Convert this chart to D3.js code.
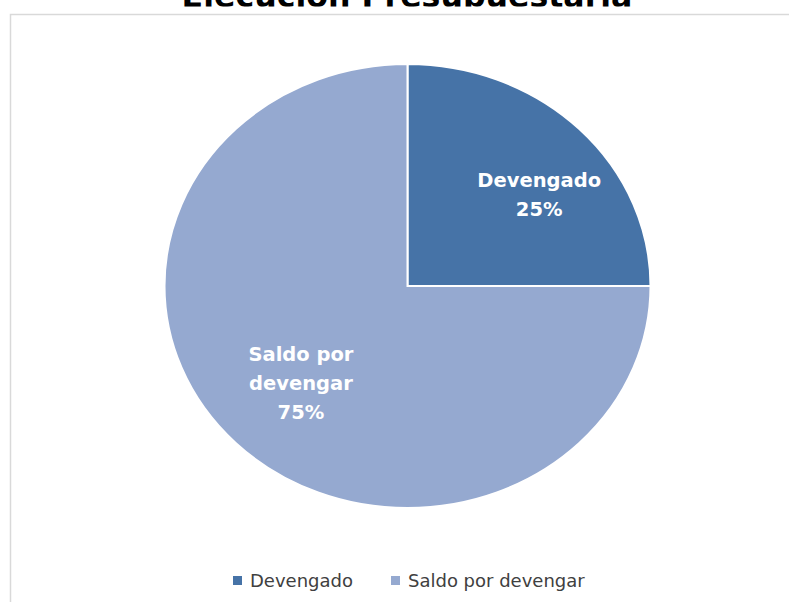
<!DOCTYPE html>
<html lang="es">
<head>
  <meta charset="UTF-8">
  <title>Ejecución Presupuestaria</title>
  <script src="https://d3js.org/d3.v7.min.js"></script>
  <style>
    body {
      margin: 0;
      background-color: #fff;
      font-family: "DejaVu Sans", Verdana, sans-serif;
      overflow: hidden;
    }
    #chart {
      width: 789px;
      height: 602px;
    }
  </style>
</head>
<body>
  <div id="chart"></div>
  <script>
    const categories = ["Devengado", "Saldo por devengar"];
    const values = [25, 75];
    const labelLines = [["Devengado", "25%"], ["Saldo por", "devengar", "75%"]];
    const colors = ["#4673A7", "#95A9D0"];

    const width = 789;
    const height = 602;
    const cx = 407.5, cy = 286;
    const rx = 243, ry = 222;

    const svg = d3.select("#chart")
      .append("svg")
      .attr("width", width)
      .attr("height", height);

    // title is clipped at the top edge like in the source picture
    svg.append("clipPath")
      .attr("id", "titleClip")
      .append("rect")
      .attr("x", 0).attr("y", 0)
      .attr("width", width).attr("height", 6.5);

    svg.append("text")
      .attr("x", 407)
      .attr("y", 6.5)
      .attr("clip-path", "url(#titleClip)")
      .attr("text-anchor", "middle")
      .attr("font-size", 31.6)
      .attr("font-weight", "bold")
      .attr("fill", "#000")
      .text("Ejecución Presupuestaria");

    // frame
    svg.append("rect")
      .attr("x", 10.5)
      .attr("y", 14.5)
      .attr("width", 800)
      .attr("height", 620)
      .attr("fill", "none")
      .attr("stroke", "#d9d9d9")
      .attr("stroke-width", 1.5);

    const pie = d3.pie().sort(null).value(d => d);
    const arcs = pie(values);
    const arc = d3.arc().innerRadius(0).outerRadius(ry);

    // pie is slightly wider than tall in the source
    const g = svg.append("g")
      .attr("transform", `translate(${cx},${cy}) scale(${rx / ry},1)`);

    g.selectAll("path")
      .data(arcs)
      .join("path")
      .attr("d", arc)
      .attr("fill", (d, i) => colors[i])
      .attr("stroke", "#fff")
      .attr("stroke-width", 2)
      .attr("vector-effect", "non-scaling-stroke");

    // slice labels (best-fit style placement)
    const labelRadius = [0.68, 0.62];
    const angleShift = [0.137, 0];
    const lineH = 29;
    arcs.forEach((a, i) => {
      const ang = (a.startAngle + a.endAngle) / 2 + angleShift[i];
      const r = ry * labelRadius[i];
      const x = cx + Math.sin(ang) * r * rx / ry;
      const yc = cy - Math.cos(ang) * r;
      const lines = labelLines[i];
      const y0 = yc - (lines.length - 1) * lineH / 2;
      const t = svg.append("text")
        .attr("text-anchor", "middle")
        .attr("font-size", 19.5)
        .attr("font-weight", "bold")
        .attr("fill", "#fff");
      lines.forEach((ln, j) => {
        t.append("tspan")
          .attr("x", x)
          .attr("y", y0 + j * lineH + 7)
          .text(ln);
      });
    });

    // legend
    const legendX = [233, 391];
    const legend = svg.append("g");
    categories.forEach((c, i) => {
      legend.append("rect")
        .attr("x", legendX[i])
        .attr("y", 576)
        .attr("width", 9)
        .attr("height", 9)
        .attr("fill", colors[i]);
      legend.append("text")
        .attr("x", legendX[i] + 17)
        .attr("y", 587)
        .attr("font-size", 18)
        .attr("fill", "#404040")
        .text(c);
    });
  </script>
</body>
</html>
